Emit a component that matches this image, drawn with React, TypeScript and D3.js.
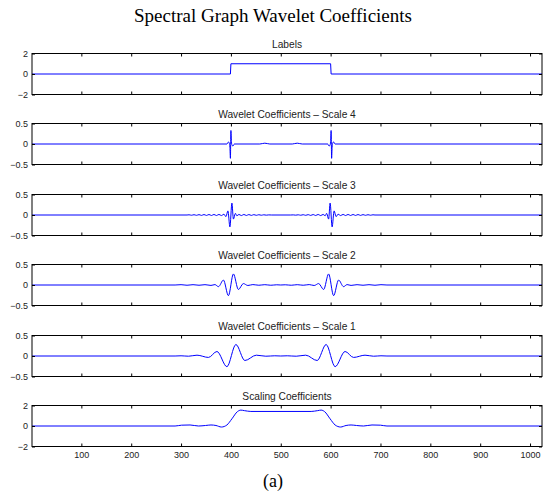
import { useEffect, useRef } from 'react';
import * as d3 from 'd3';

// valores (indice de nodo, valor)
const xTicks = [100, 200, 300, 400, 500, 600, 700, 800, 900, 1000];
const wideTicks = [-2, 0, 2];
const narrowTicks = [-0.5, 0, 0.5];

const panelTitles = [
  'Labels',
  'Wavelet Coefficients \u2013 Scale 4',
  'Wavelet Coefficients \u2013 Scale 3',
  'Wavelet Coefficients \u2013 Scale 2',
  'Wavelet Coefficients \u2013 Scale 1',
  'Scaling Coefficients',
];

const labelsSeries = [[1, 0], [399, 0], [400, 1], [600, 1], [601, 0], [1024, 0]];

const scale4Series = [
  [1, 0], [392, 0], [395, 0.05], [397, 0.01], [398, -0.08], [399, -0.35], [400, 0.33], [401, 0.06],
  [402, -0.02], [404, -0.05], [407, 0], [458, 0], [468, 0.02], [478, 0], [523, 0], [533, 0.02],
  [543, 0], [594, 0], [597, -0.05], [599, -0.02], [600, 0.06], [601, 0.33], [602, -0.35],
  [603, -0.08], [604, 0.01], [606, 0.05], [609, 0], [1024, 0],
];

const scale3Series = [
  [1, 0], [312, 0], [316, 0.005], [321, -0.006], [326, 0.007], [331, -0.008], [336, 0.009],
  [341, -0.01], [346, 0.011], [351, -0.011], [356, 0.012], [361, -0.012], [366, 0.013],
  [371, -0.013], [376, 0.014], [381, -0.014], [386, 0.02], [390, -0.04], [394, 0.1], [398, -0.29],
  [402, 0.29], [405, -0.1], [409, 0.04], [412, -0.02], [416, 0.014], [421, -0.014], [426, 0.013],
  [431, -0.012], [436, 0.011], [441, -0.01], [446, 0.009], [451, -0.008], [456, 0.007],
  [461, -0.006], [466, 0.005], [471, -0.004], [476, 0.003], [481, 0],
  [520, 0], [525, 0.003], [530, -0.004], [535, 0.005], [540, -0.006], [545, 0.007], [550, -0.008],
  [555, 0.009], [560, -0.01], [565, 0.011], [570, -0.012], [575, 0.013], [580, -0.014],
  [585, 0.014], [589, -0.02], [592, 0.04], [596, -0.1], [599, 0.29], [603, -0.29], [607, 0.1],
  [611, -0.04], [615, 0.02], [620, -0.014], [625, 0.014], [630, -0.013], [635, 0.013],
  [640, -0.012], [645, 0.012], [650, -0.011], [655, 0.011], [660, -0.01], [665, 0.009],
  [670, -0.008], [675, 0.007], [680, -0.006], [685, 0.005], [689, 0], [1024, 0],
];

const scale2Series = [
  [1, 0], [288, 0], [300, 0.008], [312, -0.006], [324, 0.008], [336, -0.006], [348, 0.008],
  [360, -0.01], [368, 0.01], [375, -0.04], [385, 0.12], [395, -0.26], [405, 0.27], [415, -0.11],
  [425, 0.035], [434, -0.012], [444, 0.01], [456, -0.006], [468, 0.008], [480, -0.006],
  [492, 0.005], [500, 0], [509, 0.005], [521, -0.006], [533, 0.008], [545, -0.006], [557, 0.01],
  [567, -0.012], [576, 0.035], [586, -0.11], [596, 0.27], [606, -0.26], [616, 0.12], [626, -0.04],
  [633, 0.01], [641, -0.01], [653, 0.008], [665, -0.006], [677, 0.008], [689, -0.006],
  [701, 0.008], [713, 0], [1024, 0],
];

const scale1Series = [
  [1, 0], [288, 0], [300, 0.005], [315, -0.005], [332, 0.02], [355, -0.035], [372, 0.11],
  [392, -0.26], [410, 0.28], [428, -0.11], [451, 0.02], [470, -0.005], [488, 0.005], [500, 0],
  [513, 0.005], [531, -0.005], [550, 0.02], [573, -0.11], [591, 0.28], [609, -0.26], [629, 0.11],
  [646, -0.035], [669, 0.02], [686, -0.005], [701, 0.005], [713, 0], [1024, 0],
];

const scalingSeries = [
  [1, 0], [288, 0], [301, 0.08], [318, 0.1], [335, 0], [349, 0.05], [360, 0.1], [370, 0.05],
  [381, -0.1], [392, 0.1], [402, 0.7], [413, 1.4], [420, 1.55], [427, 1.5], [440, 1.42],
  [561, 1.42], [574, 1.5], [581, 1.55], [588, 1.4], [599, 0.7], [609, 0.1], [620, -0.1],
  [631, 0.05], [641, 0.1], [652, 0.05], [666, 0], [683, 0.1], [700, 0.08], [713, 0], [1024, 0],
];

const allSeries = [labelsSeries, scale4Series, scale3Series, scale2Series, scale1Series, scalingSeries];
const allTicks = [wideTicks, narrowTicks, narrowTicks, narrowTicks, narrowTicks, wideTicks];

export default function App() {
  const ref = useRef<SVGSVGElement>(null);

  useEffect(() => {
    const width = 546;
    const height = 497;
    const left = 32;
    const right = 542;
    const firstTop = 53;
    const step = 70.4;
    const panelH = 41;
    const sans = '"Liberation Sans", Arial, sans-serif';
    const serif = '"Liberation Serif", "Times New Roman", serif';

    const svg = d3.select(ref.current);
    svg.selectAll('*').remove();
    svg.attr('width', width).attr('height', height);

    svg.append('rect').attr('width', width).attr('height', height).attr('fill', '#fff');

    svg.append('text')
      .attr('x', 273).attr('y', 22)
      .attr('text-anchor', 'middle')
      .style('font-family', serif)
      .style('font-size', '19px')
      .attr('fill', '#000')
      .text('Spectral Graph Wavelet Coefficients');

    const x = d3.scaleLinear().domain([1, 1024]).range([left, right]);
    const fmt = (d: number) => String(d).replace('-', '\u2212');

    allSeries.forEach((series, i) => {
      const top = Math.round(firstTop + i * step) + 0.5;
      const bottom = top + panelH;
      const ticks = allTicks[i];
      const y = d3.scaleLinear().domain([ticks[0], ticks[2]]).range([bottom, top]);

      const g = svg.append('g');

      // titulo del subplot
      g.append('text')
        .attr('x', (left + right) / 2).attr('y', top - 6)
        .attr('text-anchor', 'middle')
        .style('font-family', sans)
        .style('font-size', '10.2px')
        .attr('fill', '#222')
        .text(panelTitles[i]);

      // linea
      const line = d3.line<number[]>()
        .x(d => x(d[0]))
        .y(d => y(d[1]))
        .curve(i === 0 ? d3.curveLinear : d3.curveMonotoneX);

      g.append('path')
        .datum(series)
        .attr('d', line)
        .attr('fill', 'none')
        .attr('stroke', '#0000ff')
        .attr('stroke-width', 1);

      // ejes estilo matlab (ticks hacia adentro)
      const isLast = i === allSeries.length - 1;
      const bottomAxis = g.append('g')
        .attr('transform', `translate(0,${bottom})`)
        .call(d3.axisBottom(x).tickValues(xTicks).tickSize(-3).tickPadding(5)
          .tickFormat(isLast ? (d => String(d)) : () => ''));
      const topAxis = g.append('g')
        .attr('transform', `translate(0,${top})`)
        .call(d3.axisTop(x).tickValues(xTicks).tickSize(-3).tickFormat(() => ''));
      const leftAxis = g.append('g')
        .attr('transform', `translate(${left},0)`)
        .call(d3.axisLeft(y).tickValues(ticks).tickSize(-3).tickPadding(4).tickFormat(d => fmt(+d)));
      const rightAxis = g.append('g')
        .attr('transform', `translate(${right},0)`)
        .call(d3.axisRight(y).tickValues(ticks).tickSize(-3).tickFormat(() => ''));

      [bottomAxis, topAxis, leftAxis, rightAxis].forEach(a => {
        a.select('.domain').remove();
        a.selectAll('line').attr('stroke', '#000');
        a.selectAll('text')
          .style('font-family', sans)
          .style('font-size', '9px')
          .attr('fill', '#222');
      });

      // caja
      g.append('rect')
        .attr('x', left).attr('y', top)
        .attr('width', right - left).attr('height', panelH)
        .attr('fill', 'none')
        .attr('stroke', '#000')
        .attr('stroke-width', 1);
    });

    svg.append('text')
      .attr('x', 273).attr('y', 487)
      .attr('text-anchor', 'middle')
      .style('font-family', serif)
      .style('font-size', '18px')
      .attr('fill', '#000')
      .text('(a)');
  }, []);

  return <svg ref={ref} style={{ position: 'absolute', left: 0, top: 0, display: 'block' }} />;
}
